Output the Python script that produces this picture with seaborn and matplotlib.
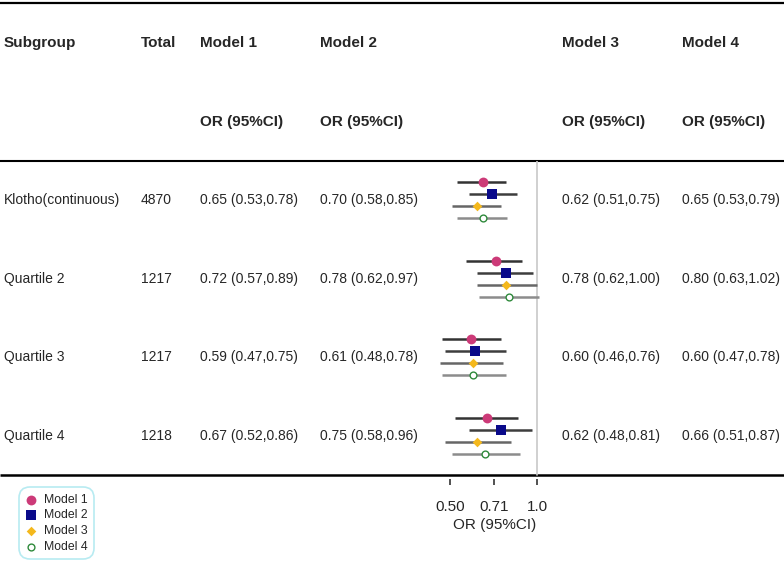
import matplotlib
matplotlib.use("Agg")
import matplotlib.pyplot as plt
import numpy as np
import pandas as pd
import seaborn as sns

# Data
subgroups = ["Klotho(continuous)", "Quartile 2", "Quartile 3", "Quartile 4"]
totals = ["4870", "1217", "1217", "1218"]
models = ["Model 1", "Model 2", "Model 3", "Model 4"]

m1_or = [0.65, 0.72, 0.59, 0.67]
m1_lo = [0.53, 0.57, 0.47, 0.52]
m1_hi = [0.78, 0.89, 0.75, 0.86]

m2_or = [0.70, 0.78, 0.61, 0.75]
m2_lo = [0.58, 0.62, 0.48, 0.58]
m2_hi = [0.85, 0.97, 0.78, 0.96]

m3_or = [0.62, 0.78, 0.60, 0.62]
m3_lo = [0.51, 0.62, 0.46, 0.48]
m3_hi = [0.75, 1.00, 0.76, 0.81]

m4_or = [0.65, 0.80, 0.60, 0.66]
m4_lo = [0.53, 0.63, 0.47, 0.51]
m4_hi = [0.79, 1.02, 0.78, 0.87]

x_ticks = [0.50, 0.71, 1.0]
x_tick_labels = ["0.50", "0.71", "1.0"]

sns.set_theme(style="white")
plt.rcParams["font.family"] = ["Liberation Sans", "DejaVu Sans"]

# long table for plotting
rows = []
for m, ors, los, his in zip(models, [m1_or, m2_or, m3_or, m4_or],
                            [m1_lo, m2_lo, m3_lo, m4_lo],
                            [m1_hi, m2_hi, m3_hi, m4_hi]):
    for i, g in enumerate(subgroups):
        rows.append({"model": m, "row": i, "subgroup": g,
                     "or": ors[i], "lo": los[i], "hi": his[i]})
df = pd.DataFrame(rows)

# pixel layout
W, H = 784, 563
row0, row_step = 200, 78.67
offset_step = 12 / row_step
offsets = {m: (k - 1.5) * offset_step for k, m in enumerate(models)}
df["y"] = df["row"] + df["model"].map(offsets)

fig = plt.figure(figsize=(W / 100, H / 100), dpi=100)
ax = fig.add_axes([0, 0, 1, 1])
ax.set_xlim(0, W)
ax.set_ylim(H, 0)
ax.axis("off")

# horizontal rules
ax.hlines(3, 0, W, color="black", lw=1.6)
ax.hlines(161, 0, W, color="black", lw=1.5)
ax.hlines(475, 0, W, color="black", lw=1.8)

# header
hdr = dict(fontsize=11, fontweight="bold", va="center", ha="left")
ax.text(4, 43, "Subgroup", **hdr)
ax.text(141, 43, "Total", **hdr)
col_x = {"Model 1": 200, "Model 2": 320, "Model 3": 562, "Model 4": 682}
for m in models:
    ax.text(col_x[m], 43, m, **hdr)
    ax.text(col_x[m], 122, "OR (95%CI)", **hdr)

# body text
body = dict(fontsize=10, va="center", ha="left")
for i, g in enumerate(subgroups):
    ypx = row0 + row_step * i
    ax.text(4, ypx, g, **body)
    ax.text(141, ypx, totals[i], **body)
    for m in models:
        r = df[(df["model"] == m) & (df["row"] == i)].iloc[0]
        ax.text(col_x[m], ypx, f"{r['or']:.2f} ({r['lo']:.2f},{r['hi']:.2f})", **body)

# forest axes
fx0, fx1 = 430, 560
fy0, fy1 = 161, 479
fa = fig.add_axes([fx0 / W, (H - fy1) / H, (fx1 - fx0) / W, (fy1 - fy0) / H])
fa.patch.set_alpha(0)
px_per_log = 125.5
fa.set_xscale("log")
fa.set_xlim(np.exp((fx0 - 537) / px_per_log), np.exp((fx1 - 537) / px_per_log))
fa.set_ylim((fy1 - row0) / row_step, (fy0 - row0) / row_step)
for s in fa.spines.values():
    s.set_visible(False)

fa.axvline(1.0, ymin=(fy1 - 475) / (fy1 - fy0), ymax=1, color="#c8c8c8", lw=1.2, zorder=0)

line_colors = {"Model 1": "#333333", "Model 2": "#3d3d3d", "Model 3": "#666666", "Model 4": "#8c8c8c"}
styles = {
    "Model 1": dict(marker="o", s=50, color="#cc3a78", edgecolor="#cc3a78", linewidth=0),
    "Model 2": dict(marker="s", s=50, color="#0a0a8a", edgecolor="#0a0a8a", linewidth=0),
    "Model 3": dict(marker="D", s=24, color="#f4b81c", edgecolor="#f4b81c", linewidth=0),
    "Model 4": dict(marker="o", s=24, color="white", edgecolor="#2f8a3c", linewidth=1.0),
}
for m in models:
    sub = df[df["model"] == m]
    fa.hlines(sub["y"], sub["lo"], sub["hi"], color=line_colors[m], lw=1.8, zorder=2)
    sns.scatterplot(data=sub, x="or", y="y", ax=fa, label=m, zorder=3, legend=False, **styles[m])

fa.set_yticks([])
fa.set_xticks(x_ticks)
fa.set_xticklabels(x_tick_labels)
fa.minorticks_off()
fa.tick_params(axis="x", bottom=True, direction="out", length=4.5, width=1.2,
               color="#333333", labelsize=11, pad=10.5)
fa.set_xlabel("OR (95%CI)", fontsize=11, labelpad=3)
fa.set_ylabel("")

# legend
handles, labels = fa.get_legend_handles_labels()
leg = ax.legend(handles, labels, loc="upper left", bbox_to_anchor=(19 / W, 1 - 487 / H),
                bbox_transform=fig.transFigure, fontsize=8.8, frameon=True, fancybox=True,
                edgecolor="#a6e6ee", handlelength=0.8, handletextpad=0.7,
                labelspacing=0.3, borderpad=0.55, borderaxespad=0, markerscale=1.0)
leg.get_frame().set_linewidth(1.2)
leg.get_frame().set_boxstyle("round", pad=0, rounding_size=0.9)

fig.savefig("out.png", dpi=100)
